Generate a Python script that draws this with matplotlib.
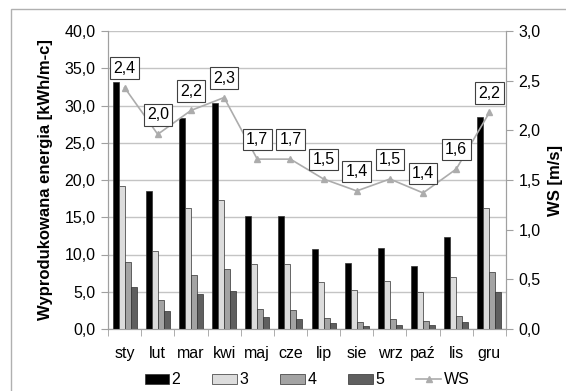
import numpy as np
import matplotlib
matplotlib.use("Agg")
import matplotlib.pyplot as plt
from matplotlib.ticker import FuncFormatter, FixedLocator
from matplotlib.patches import Rectangle

plt.rcParams['font.family'] = ['Liberation Sans', 'DejaVu Sans']

months = ['sty', 'lut', 'mar', 'kwi', 'maj', 'cze', 'lip', 'sie', 'wrz', 'paź', 'lis', 'gru']

# energia miesięczna dla poszczególnych wariantów [kWh/m-c]
e2 = [33.2, 18.5, 28.3, 30.3, 15.2, 15.2, 10.7, 8.8, 10.9, 8.5, 12.4, 28.4]
e3 = [19.2, 10.5, 16.3, 17.3, 8.7, 8.7, 6.3, 5.2, 6.4, 5.0, 7.0, 16.2]
e4 = [9.0, 3.9, 7.3, 8.0, 2.7, 2.5, 1.5, 1.0, 1.3, 1.1, 1.8, 7.6]
e5 = [5.6, 2.4, 4.7, 5.1, 1.6, 1.4, 0.8, 0.4, 0.6, 0.5, 1.0, 4.9]

# średnia prędkość wiatru [m/s]
ws = [2.43, 1.96, 2.2, 2.33, 1.71, 1.71, 1.51, 1.39, 1.51, 1.37, 1.61, 2.18]

series = [('2', e2, '#000000'), ('3', e3, '#dcdcdc'), ('4', e4, '#a3a3a3'), ('5', e5, '#5f5f5f')]

comma = FuncFormatter(lambda v, p: ('%.1f' % v).replace('.', ','))
fs = 11.5

fig = plt.figure(figsize=(5.66, 3.91), dpi=100)
ax = fig.add_axes([108 / 566, 1 - 329 / 391, (506 - 108) / 566, (329 - 31) / 391])

x = np.arange(len(months))
w = 0.18
for i, (name, vals, col) in enumerate(series):
    ax.bar(x + (i - 1.5) * w, vals, width=w, color=col, edgecolor='#303030',
           linewidth=0.5, label=name, zorder=3)

ax.set_xlim(-0.5, len(months) - 0.5)
ax.set_ylim(0, 40)
ax.set_yticks(np.arange(0, 41, 5))
ax.yaxis.set_major_formatter(comma)
ax.grid(axis='y', color='#c4c4c4', linewidth=1.0, zorder=0)
ax.set_xticks(x)
ax.set_xticklabels(months)
ax.xaxis.set_minor_locator(FixedLocator(np.arange(-0.5, len(months), 1)))
ax.tick_params(axis='x', which='major', length=0, pad=12, labelsize=fs)
ax.tick_params(axis='x', which='minor', length=5, color='#a0a0a0')
ax.tick_params(axis='y', length=5, color='#a0a0a0', labelsize=fs, pad=4)
ax.spines['top'].set_visible(False)
for s in ['left', 'bottom', 'right']:
    ax.spines[s].set_color('#a0a0a0')
ax.set_ylabel('Wyprodukowana energia [kWh/m-c]', fontsize=12, fontweight='bold', labelpad=8)

ax2 = ax.twinx()
ax2.plot(x, ws, color='#acacac', linewidth=1.2, marker='^', markersize=4,
         label='WS', zorder=4)
ax2.set_ylim(0, 3)
ax2.set_yticks(np.arange(0, 3.01, 0.5))
ax2.yaxis.set_major_formatter(comma)
ax2.tick_params(axis='y', length=5, color='#a0a0a0', labelsize=fs, pad=4)
ax2.spines['top'].set_visible(False)
for s in ['left', 'bottom', 'right']:
    ax2.spines[s].set_color('#a0a0a0')
ax2.set_ylabel('WS [m/s]', fontsize=12, fontweight='bold', labelpad=5)

for xi, v in zip(x, ws):
    ax2.annotate(('%.1f' % v).replace('.', ','), (xi, v), xytext=(0, 14),
                 textcoords='offset points', ha='center', va='center', fontsize=fs,
                 bbox=dict(boxstyle='square,pad=0.2', fc='white', ec='#404040', lw=0.8),
                 zorder=5)

h1, l1 = ax.get_legend_handles_labels()
h2, l2 = ax2.get_legend_handles_labels()
fig.legend(h1 + h2, l1 + l2, loc='center', bbox_to_anchor=(307 / 566, 1 - 380 / 391),
           ncol=5, frameon=False, fontsize=fs, handlelength=1.55, handleheight=0.55,
           handletextpad=0.15, columnspacing=2.0, borderpad=0.2)

# ramka wykresu
fig.patches.append(Rectangle((11 / 566, -0.05), 1.1, 1 - 9 / 391 + 0.05,
                             transform=fig.transFigure, fill=False,
                             ec='#b0b0b0', lw=1.0))

fig.savefig('out.png', dpi=100)
